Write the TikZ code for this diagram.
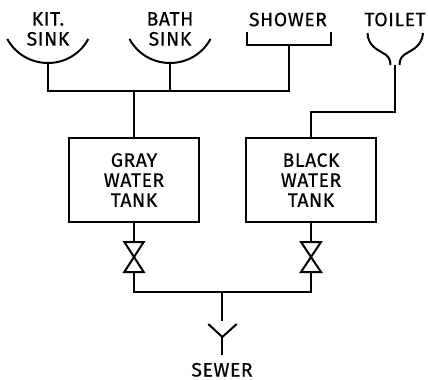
\documentclass[tikz,border=0pt]{standalone}
\usepackage{fontspec}
\setmainfont[LetterSpace=3,FakeBold=0.4]{Fira Sans}
\begin{document}
\begin{tikzpicture}[x=0.75pt,y=-0.75pt,line width=1.5pt,
  every node/.style={font=\fontsize{14.5}{15}\selectfont,text=black,align=center,inner sep=0pt},
  pipe/.style={draw=black,line cap=butt,line join=miter},
  tank/.style={draw=black,minimum width=97.5pt,minimum height=62.6pt,line width=1.5pt}]
\useasboundingbox (0,0) rectangle (428,379);
\node (kit) at (48,29) {KIT.\\SINK};
\node (bath) at (170,29) {BATH\\SINK};
\node (shower) at (288,19.5) {SHOWER};
\node (toilet) at (395,19.5) {TOILET};
\node[anchor=base] (sewer) at (222,376.5) {SEWER};
\node[tank] (gray) at (134,180) {GRAY\\WATER\\TANK};
\node[tank] (black) at (311,180) {BLACK\\WATER\\TANK};
\coordinate (kb) at (48,63);
\coordinate (bb) at (170,63);
\coordinate (hl) at (48,91);
\coordinate (hb) at (170,91);
\coordinate (hg) at (134,91);
\coordinate (hr) at (289,91);
\coordinate (sb) at (289,45);
\coordinate (ts) at (395,65);
% sinks
\draw[pipe] (7.3,39) .. controls (15.4,54) and (31.2,63) .. (kb) .. controls (64.8,63) and (80.2,54) .. (88.3,39);
\draw[pipe] (129.5,39) .. controls (137.6,54) and (153.2,63) .. (bb) .. controls (186.8,63) and (202.4,54) .. (210.5,39);
% shower
\draw[pipe] (247,32) -- (247,45) -- (331,45) -- (331,32);
% toilet
\draw[pipe] (367.5,33) .. controls (368,46) and (378,50) .. (383,53) .. controls (388,55.5) and (390.5,59) .. (390.5,65);
\draw[pipe] (423,33) .. controls (422,46) and (412,50) .. (407,53) .. controls (402,55.5) and (399.5,59) .. (399.5,65);
% pipes
\draw[pipe] (kb) -- (hl) -- (hr) -- (sb);
\draw[pipe] (bb) -- (hb);
\draw[pipe] (hg) -- (gray.north -| hg);
\draw[pipe] (ts) -- (395,112) -- (311,112) -- (black.north -| 311,112);
% valves
\coordinate (v1t) at (134,242);
\coordinate (v1b) at (134,272);
\coordinate (v2t) at (311,242);
\coordinate (v2b) at (311,272);
\draw[pipe] (gray.south -| v1t) -- (v1t);
\draw[pipe] (black.south -| v2t) -- (v2t);
\draw[pipe] (124.3,242) -- (143.7,242) -- (124.3,272) -- (143.7,272) -- cycle;
\draw[pipe] (301,242) -- (321,242) -- (301,272) -- (321,272) -- cycle;
\draw[pipe] (v1b) -- (134,292) -- (311,292) -- (v2b);
% sewer
\coordinate (sw) at (222.3,337);
\draw[pipe] (222.3,292) -- (222.3,321);
\draw[pipe] (208.3,324) -- (sw) -- (236.7,324);
\draw[pipe] (sw) -- (222.3,355);
\end{tikzpicture}
\end{document}
